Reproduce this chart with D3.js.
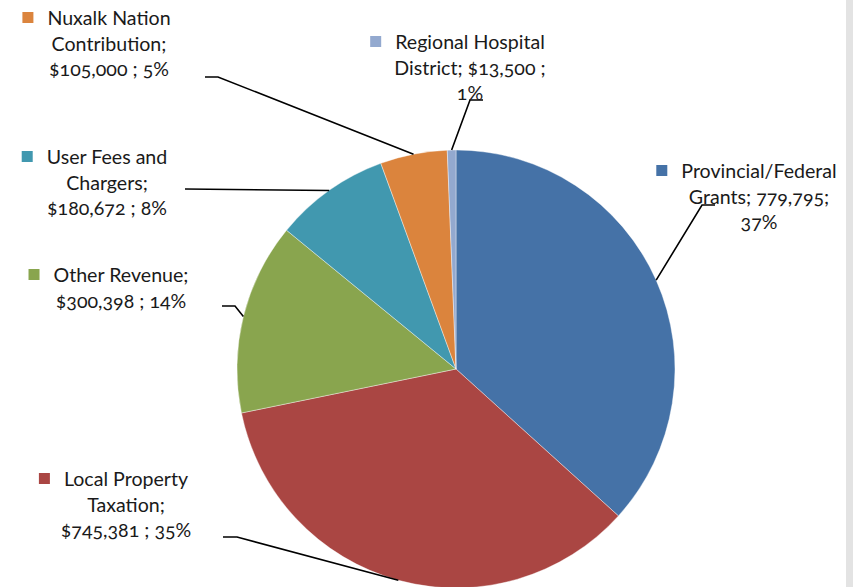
<!DOCTYPE html>
<html>
<head>
<meta charset="utf-8">
<script src="https://cdn.jsdelivr.net/npm/d3@7"></script>
<style>
  body { margin: 0; background: #fff; }
  svg { display: block; }
  .lbl { font-family: Lato, "Open Sans", sans-serif; font-size: 19.6px; fill: #1a1a1a;
         font-feature-settings: "onum" 1; font-variant-numeric: oldstyle-nums; }
</style>
</head>
<body>
<div id="chart"></div>
<script>
// data
const categories = ["Provincial/Federal Grants", "Local Property Taxation", "Other Revenue",
  "User Fees and Chargers", "Nuxalk Nation Contribution", "Regional Hospital District"];
const values = [779795, 745381, 300398, 180672, 105000, 13500];
const labelLines = [
  ["Provincial/Federal", "Grants; 779,795;", "37%"],
  ["Local Property", "Taxation;", "$745,381 ; 35%"],
  ["Other Revenue;", "$300,398 ; 14%"],
  ["User Fees and", "Chargers;", "$180,672 ; 8%"],
  ["Nuxalk Nation", "Contribution;", "$105,000 ; 5%"],
  ["Regional Hospital", "District; $13,500 ;", "1%"]
];
const colors = ["#4572A7", "#AA4643", "#89A54E", "#4198AF", "#DB843D", "#93A9CF"];

const width = 853, height = 587;
const cx = 456, cy = 369, radius = 219;

// label layout: text centre x, first baseline y, leader polyline start (label side)
const labelPos = [
  { x: 759, y: 178, lead: [[715, 205], [702, 205]] },
  { x: 126, y: 486, lead: [[223, 537], [237, 537]] },
  { x: 121, y: 282, lead: [[222, 306], [235, 306]] },
  { x: 107, y: 164, lead: [[185, 189]] },
  { x: 109, y: 25, lead: [[205, 77], [218, 77]] },
  { x: 470, y: 49, lead: [[483, 100], [470, 100]] }
];
const lineH = 25.7;

const svg = d3.select("#chart").append("svg")
  .attr("width", width).attr("height", height);

svg.append("rect").attr("x", 846).attr("y", 0)
  .attr("width", width - 846).attr("height", height).attr("fill", "#e3e3e3");

const pie = d3.pie().sort(null).value(d => d);
const arcs = pie(values);
const arc = d3.arc().innerRadius(0).outerRadius(radius);
const edge = d3.arc().innerRadius(radius).outerRadius(radius);

const g = svg.append("g").attr("transform", `translate(${cx},${cy})`);
g.selectAll("path.slice").data(arcs).enter().append("path")
  .attr("class", "slice")
  .attr("d", arc)
  .attr("fill", (d, i) => colors[i])
  .attr("stroke", "#fff").attr("stroke-width", 0.4);

// leader lines
const line = d3.line();
svg.selectAll("path.leader").data(arcs).enter().append("path")
  .attr("class", "leader")
  .attr("d", (d, i) => {
    const c = edge.centroid(d);
    const pts = labelPos[i].lead.concat([[cx + c[0], cy + c[1]]]);
    return line(pts);
  })
  .attr("fill", "none").attr("stroke", "#000").attr("stroke-width", 1.6);

// labels
labelLines.forEach((lines, i) => {
  const p = labelPos[i];
  const t = svg.append("text").attr("class", "lbl").attr("text-anchor", "middle");
  lines.forEach((s, k) => {
    t.append("tspan").attr("x", p.x).attr("y", p.y + k * lineH).text(s);
  });
  const w = t.select("tspan").node().getComputedTextLength();
  svg.append("rect")
    .attr("x", p.x - w / 2 - 25).attr("y", p.y - 13)
    .attr("width", 11).attr("height", 11)
    .attr("fill", colors[i]);
});
</script>
</body>
</html>
